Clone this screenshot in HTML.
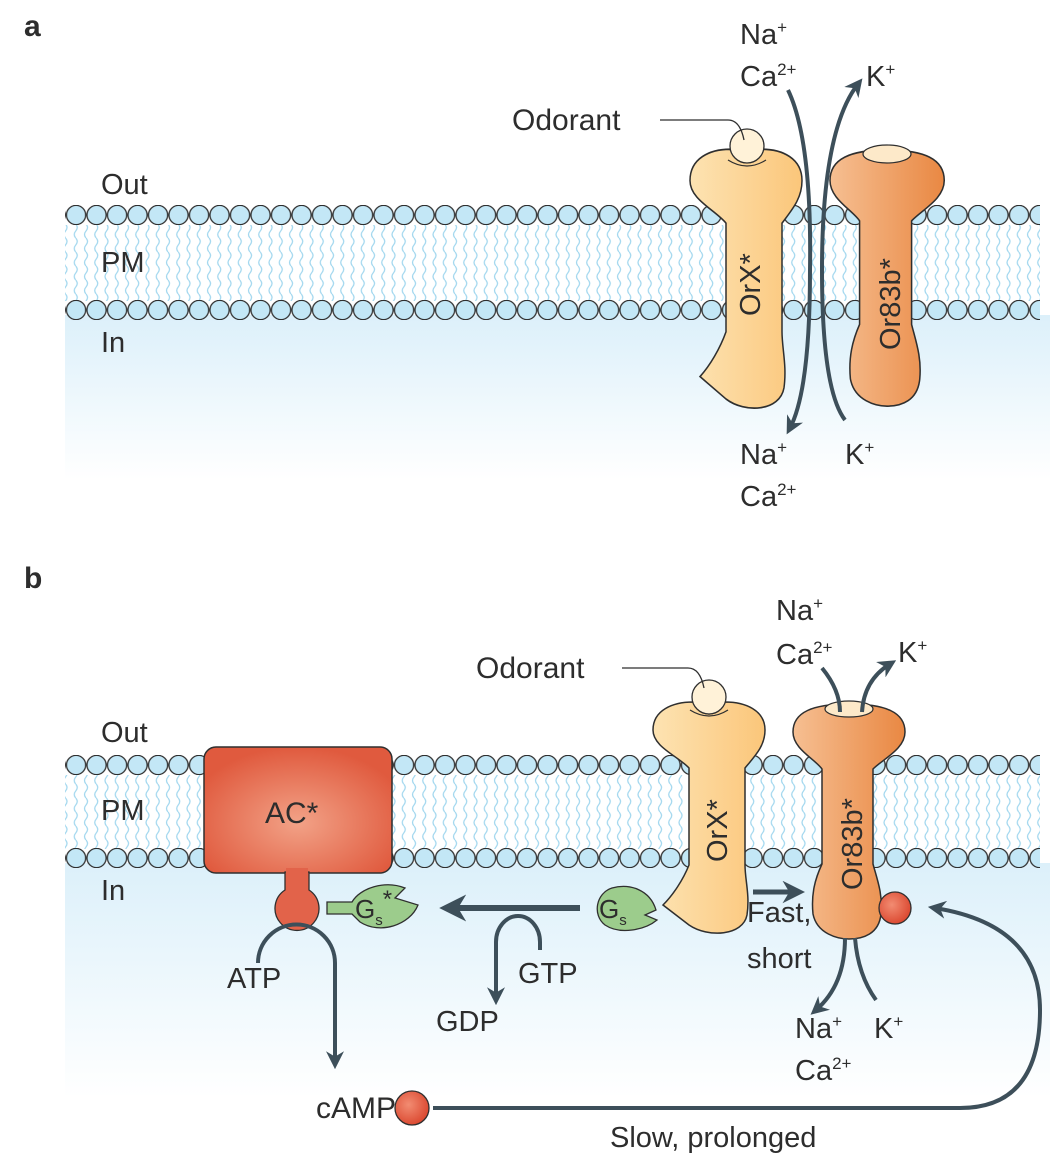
<!DOCTYPE html>
<html><head><meta charset="utf-8"><style>
html,body{margin:0;padding:0;background:#fff}
svg{display:block}
text{font-family:"Liberation Sans",sans-serif;fill:#2d2d2d}
</style></head><body>
<svg width="1050" height="1160" viewBox="0 0 1050 1160" xmlns="http://www.w3.org/2000/svg">
<defs>
<linearGradient id="bgIn" x1="0" y1="0" x2="0" y2="1">
<stop offset="0" stop-color="#dcf0fa"/><stop offset="1" stop-color="#ffffff"/></linearGradient>
<linearGradient id="orx" x1="0" y1="0" x2="1" y2="0">
<stop offset="0" stop-color="#fde3b2"/><stop offset="1" stop-color="#fbc67a"/></linearGradient>
<linearGradient id="or83" x1="0" y1="0" x2="1" y2="0">
<stop offset="0" stop-color="#f6bf92"/><stop offset="1" stop-color="#e98843"/></linearGradient>
<radialGradient id="ac" cx="0.5" cy="0.6" r="0.6">
<stop offset="0" stop-color="#f2a287"/><stop offset="1" stop-color="#e05a3e"/></radialGradient>
<radialGradient id="red" cx="0.4" cy="0.4" r="0.6">
<stop offset="0" stop-color="#f28c72"/><stop offset="1" stop-color="#dc4b33"/></radialGradient>
<pattern id="tails" x="0" y="0" width="10.25" height="14" patternUnits="userSpaceOnUse">
<path d="M4,0 q3,3.5 0,7 q-3,3.5 0,7" fill="none" stroke="#9fd6ee" stroke-width="1.2"/>
</pattern>
<pattern id="bA1" x="65.8" y="205" width="20.5" height="20" patternUnits="userSpaceOnUse">
<circle cx="10.25" cy="10" r="9.6" fill="#c3e7f6" stroke="#2f2f2f" stroke-width="1.3"/></pattern>
<pattern id="bA2" x="65.8" y="300" width="20.5" height="20" patternUnits="userSpaceOnUse">
<circle cx="10.25" cy="10" r="9.6" fill="#c3e7f6" stroke="#2f2f2f" stroke-width="1.3"/></pattern>
<pattern id="bB1" x="65.8" y="755" width="20.5" height="20" patternUnits="userSpaceOnUse">
<circle cx="10.25" cy="10" r="9.6" fill="#c3e7f6" stroke="#2f2f2f" stroke-width="1.3"/></pattern>
<pattern id="bB2" x="65.8" y="848" width="20.5" height="20" patternUnits="userSpaceOnUse">
<circle cx="10.25" cy="10" r="9.6" fill="#c3e7f6" stroke="#2f2f2f" stroke-width="1.3"/></pattern>
<marker id="ah" viewBox="0 0 10 10" refX="6" refY="5" markerWidth="4.5" markerHeight="4.5" orient="auto-start-reverse">
<path d="M0,0 L10,5 L0,10 L3,5 Z" fill="#3d4f5a"/></marker>
<path id="orxShape" d="M40,2 C20,2 0,10 0,30 C0,47 25,56 36,68 L36,165 C30,180 20,195 10,205 L36,225 C55,238 90,236 94,215 C97,195 92,180 92,165 L92,68 C102,56 112,46 112,30 C112,10 92,2 72,2 C68,10 60,14 56,14 C52,14 44,10 40,2 Z"/>
<path id="or83Shape" d="M56,0 C20,0 0,8 0,28 C0,45 22,55 29,65 L29,160 C22,175 18,190 20,210 C24,230 45,235 56,235 C70,235 86,230 88,210 C90,190 84,175 80,160 L80,65 C90,55 112,45 112,28 C112,8 92,0 56,0 Z"/>
</defs>

<rect x="65" y="315" width="985" height="165" fill="url(#bgIn)"/>
<rect x="65" y="225" width="975" height="76" fill="url(#tails)"/>
<rect x="65" y="205" width="975" height="20" fill="url(#bA1)"/>
<rect x="65" y="300" width="975" height="20" fill="url(#bA2)"/>

<rect x="65" y="863" width="985" height="235" fill="url(#bgIn)"/>
<rect x="65" y="775" width="975" height="74" fill="url(#tails)"/>
<rect x="65" y="755" width="975" height="20" fill="url(#bB1)"/>
<rect x="65" y="848" width="975" height="20" fill="url(#bB2)"/>

<text x="24" y="36" font-size="30" font-weight="bold">a</text>
<text x="24" y="588" font-size="30" font-weight="bold">b</text>

<g font-size="29">
<text x="101" y="194">Out</text><text x="101" y="272">PM</text><text x="101" y="352">In</text>
<text x="101" y="742">Out</text><text x="101" y="820">PM</text><text x="101" y="900">In</text>
</g>

<g transform="translate(690,147) scale(1,1.12)"><use href="#orxShape" fill="url(#orx)" stroke="#2f2f2f" stroke-width="1.5"/></g>
<g transform="translate(830,150) scale(1.02,1.09)"><use href="#or83Shape" fill="url(#or83)" stroke="#2f2f2f" stroke-width="1.5"/></g>
<ellipse cx="887" cy="154" rx="24" ry="9" fill="#fde9c9" stroke="#2f2f2f" stroke-width="1.2"/>
<circle cx="747" cy="146" r="17" fill="#fff2d8" stroke="#2f2f2f" stroke-width="1.3"/>
<path d="M728,160 Q747,172 766,160" fill="none" stroke="#2f2f2f" stroke-width="1.2"/>
<path d="M660,120 L728,120 Q740,120 744,140" fill="none" stroke="#2f2f2f" stroke-width="1.3"/>
<text x="512" y="130" font-size="30">Odorant</text>
<text transform="translate(760,316) rotate(-90)" font-size="29">OrX*</text>
<text transform="translate(900,350) rotate(-90)" font-size="29">Or83b*</text>
<path d="M788,90 Q812,140 810,270 Q810,390 790,428" fill="none" stroke="#3d4f5a" stroke-width="4" marker-end="url(#ah)"/>
<path d="M845,420 Q822,390 822,270 Q822,130 858,84" fill="none" stroke="#3d4f5a" stroke-width="4" marker-end="url(#ah)"/>
<g font-size="29">
<text x="740" y="44">Na<tspan font-size="17" dy="-11">+</tspan></text>
<text x="740" y="86">Ca<tspan font-size="17" dy="-11">2+</tspan></text>
<text x="866" y="86">K<tspan font-size="17" dy="-11">+</tspan></text>
<text x="740" y="464">Na<tspan font-size="17" dy="-11">+</tspan></text>
<text x="845" y="464">K<tspan font-size="17" dy="-11">+</tspan></text>
<text x="740" y="506">Ca<tspan font-size="17" dy="-11">2+</tspan></text>
</g>

<g transform="translate(653,700)"><use href="#orxShape" fill="url(#orx)" stroke="#2f2f2f" stroke-width="1.5"/></g>
<g transform="translate(793,704)"><use href="#or83Shape" fill="url(#or83)" stroke="#2f2f2f" stroke-width="1.5"/></g>
<ellipse cx="849" cy="709" rx="24" ry="8" fill="#fde9c9" stroke="#2f2f2f" stroke-width="1.2"/>
<circle cx="709" cy="697" r="17" fill="#fff2d8" stroke="#2f2f2f" stroke-width="1.3"/>
<path d="M690,710 Q709,722 728,710" fill="none" stroke="#2f2f2f" stroke-width="1.2"/>
<path d="M622,668 L688,668 Q700,668 704,688" fill="none" stroke="#2f2f2f" stroke-width="1.3"/>
<text x="476" y="678" font-size="30">Odorant</text>
<text transform="translate(727,862) rotate(-90)" font-size="29">OrX*</text>
<text transform="translate(862,890) rotate(-90)" font-size="29">Or83b*</text>
<circle cx="895" cy="908" r="16" fill="url(#red)" stroke="#2f2f2f" stroke-width="1.3"/>
<path d="M822,668 Q840,690 840,712" fill="none" stroke="#3d4f5a" stroke-width="4"/>
<path d="M862,712 Q864,680 890,664" fill="none" stroke="#3d4f5a" stroke-width="4" marker-end="url(#ah)"/>
<path d="M845,938 Q845,985 816,1010" fill="none" stroke="#3d4f5a" stroke-width="4" marker-end="url(#ah)"/>
<path d="M855,938 Q858,975 876,1000" fill="none" stroke="#3d4f5a" stroke-width="4"/>
<g font-size="29">
<text x="776" y="620">Na<tspan font-size="17" dy="-11">+</tspan></text>
<text x="776" y="664">Ca<tspan font-size="17" dy="-11">2+</tspan></text>
<text x="898" y="662">K<tspan font-size="17" dy="-11">+</tspan></text>
<text x="795" y="1038">Na<tspan font-size="17" dy="-11">+</tspan></text>
<text x="874" y="1038">K<tspan font-size="17" dy="-11">+</tspan></text>
<text x="795" y="1080">Ca<tspan font-size="17" dy="-11">2+</tspan></text>
<text x="747" y="922">Fast,</text>
<text x="747" y="968">short</text>
</g>
<path d="M753,892 L796,892" stroke="#3d4f5a" stroke-width="5" marker-end="url(#ah)"/>

<path d="M656,910 C650,890 630,883 612,888 C596,893 592,915 605,925 C620,935 645,930 657,920 L645,915 Z" fill="#9ccc8c" stroke="#2f2f2f" stroke-width="1.3"/>
<text x="599" y="918" font-size="26">G<tspan font-size="15" dy="7">s</tspan></text>

<rect x="204" y="747" width="188" height="126" rx="12" fill="url(#ac)" stroke="#2f2f2f" stroke-width="1.5"/>
<path d="M285,872 L285,890 A22,22 0 1,0 309,890 L309,872 Z" fill="#e2634a" stroke="#2f2f2f" stroke-width="1.3"/>
<rect x="286" y="868" width="22" height="8" fill="#e2634a"/>
<text x="265" y="823" font-size="30">AC*</text>

<path d="M327,902 L352,902 C360,888 385,880 405,888 L395,898 L418,905 C410,925 380,935 360,922 L352,914 L327,914 Z" fill="#9ccc8c" stroke="#2f2f2f" stroke-width="1.3"/>
<text x="355" y="918" font-size="26">G<tspan font-size="15" dy="7">s</tspan><tspan font-size="24" dy="-18">*</tspan></text>

<path d="M580,908 L450,908" stroke="#3d4f5a" stroke-width="6" marker-end="url(#ah)"/>
<path d="M540,950 L540,942 A22,26 0 0,0 496,942 L496,998" fill="none" stroke="#3d4f5a" stroke-width="4" marker-end="url(#ah)"/>
<text x="518" y="983" font-size="29">GTP</text>
<text x="436" y="1031" font-size="29">GDP</text>

<path d="M258,963 A38,38 0 0,1 335,963 L335,1062" fill="none" stroke="#3d4f5a" stroke-width="4" marker-end="url(#ah)"/>
<text x="227" y="988" font-size="29">ATP</text>
<text x="316" y="1118" font-size="30">cAMP</text>
<circle cx="412" cy="1108" r="17" fill="url(#red)" stroke="#2f2f2f" stroke-width="1.3"/>
<path d="M433,1108 L960,1108 Q1040,1108 1040,1010 Q1040,925 935,908" fill="none" stroke="#3d4f5a" stroke-width="4" marker-end="url(#ah)"/>
<text x="610" y="1147" font-size="29">Slow, prolonged</text>
</svg>
</body></html>
